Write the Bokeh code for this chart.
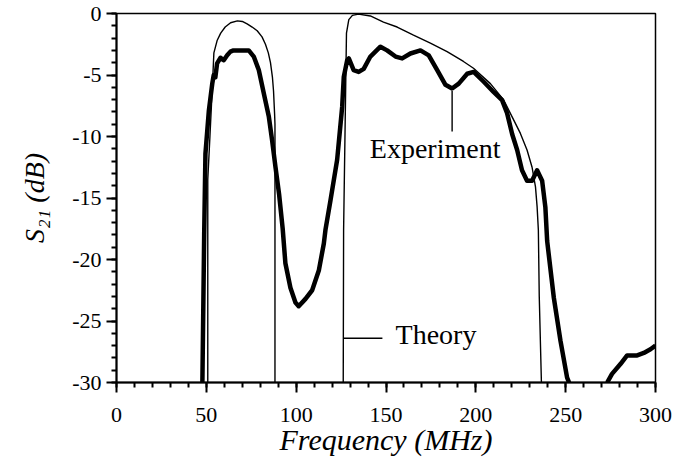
from bokeh.plotting import figure
from bokeh.models import FixedTicker, Label, Range1d
from bokeh.embed import file_html
from bokeh.resources import INLINE

nan = float("nan")

# ---- data ----
x_ticks = [0, 50, 100, 150, 200, 250, 300]
x_minor = list(range(0, 301, 10))
y_ticks = [-30, -25, -20, -15, -10, -5, 0]
y_minor = list(range(-30, 1, 1))
y_tick_labels = ["-30", "-25", "-20", "-15", "-10", "-5", "0"]

theory_freq = [50.8, 50.8, 52.0, 53.5, 54.2, 56.0, 58.0, 60.5, 63.5, 67.3, 70.0, 72.7,
               75.5, 78.3, 81.0, 82.9, 84.5, 85.7, 86.8, 87.4, 88.0, 88.2, 88.2, nan,
               126.2, 126.4, 128.0, 129.3, 131.3, 134.7, 141.3, 148.6, 156.2, 165.3,
               174.7, 184.0, 193.1, 198.7, 208.1, 215.4, 220.2, 224.8, 228.5, 231.3,
               233.2, 234.1, 234.8, 235.3, 236.5]
theory_s21 = [-30.0, -13.5, -10.0, -5.5, -3.2, -2.2, -1.6, -1.1, -0.75, -0.6, -0.65, -0.85,
              -1.1, -1.4, -1.9, -2.5, -3.2, -4.0, -5.2, -6.3, -8.2, -9.0, -30.0, nan,
              -30.0, -17.6, -1.6, -0.5, -0.15, -0.05, -0.2, -0.7, -1.1, -1.75,
              -2.4, -3.1, -3.9, -4.45, -5.7, -7.0, -8.4, -9.75, -11.1, -12.5,
              -14.1, -15.7, -17.6, -23.0, -30.0]

exp_freq = [47.8, 48.8, 49.5, 51.4, 53.3, 54.1, 55.0, 56.0, 57.9, 59.7, 61.6, 63.4, 65.1,
            73.6, 76.4, 79.2, 82.0, 84.8, 86.6, 88.5, 90.5, 92.5, 94.0, 96.8, 99.6, 101.4,
            105.2, 108.9, 112.6, 115.4, 116.3, 119.1, 122.8, 125.6, 126.5, 128.4, 129.3,
            132.0, 134.8, 137.6, 141.3, 146.9, 150.6, 155.3, 159.0, 163.6, 169.2, 173.8,
            178.5, 183.1, 186.8, 190.5, 195.2, 198.8, 204.4, 210.0, 214.6, 217.4, 220.2,
            223.0, 225.7, 228.5, 231.3, 234.1, 236.9, 238.7, 239.7, 243.4, 247.1, 250.8,
            251.9, nan, 273.1, 275.8, 280.5, 284.2, 289.8, 293.5, 297.2, 300.0]
exp_s21 = [-30.0, -18.0, -11.4, -7.9, -5.7, -5.0, -5.2, -4.05, -3.6, -3.8, -3.4, -3.1, -3.0,
           -3.0, -3.5, -4.6, -6.5, -8.4, -10.3, -12.5, -14.7, -17.5, -20.3, -22.3, -23.5, -23.8,
           -23.2, -22.5, -20.9, -18.7, -17.6, -15.2, -11.9, -7.6, -5.15, -3.8, -3.65,
           -4.6, -4.75, -4.5, -3.5, -2.7, -3.0, -3.5, -3.65, -3.25, -3.0, -3.4,
           -4.6, -5.8, -6.1, -5.7, -4.9, -4.75, -5.55, -6.4, -7.05, -8.1, -9.8,
           -11.1, -12.75, -13.6, -13.6, -12.75, -13.6, -15.75, -18.5, -23.1, -26.6, -29.6,
           -30.0, nan, -30.0, -29.3, -28.5, -27.8, -27.8, -27.6, -27.3, -27.0]

# annotation leaders and labels
exp_leader_x = [186.8, 186.8]
exp_leader_y = [-6.3, -9.6]
theory_leader_x = [126.3, 148.0]
theory_leader_y = [-26.4, -26.4]
exp_label = ("Experiment", 141.0, -11.0)
theory_label = ("Theory", 155.3, -26.1)

SERIF = "Liberation Serif"

p = figure(width=686, height=465, x_range=Range1d(0, 300), y_range=Range1d(-30, 0),
           output_backend="svg", toolbar_location=None,
           min_border_left=116, min_border_right=31, min_border_top=13, min_border_bottom=83)
p.xgrid.visible = False
p.ygrid.visible = False
p.background_fill_color = "white"
p.border_fill_color = "white"
p.outline_line_color = "black"
p.outline_line_width = 1.5

p.line(theory_freq, theory_s21, line_color="black", line_width=1.4)
p.line(exp_freq, exp_s21, line_color="black", line_width=4.5, line_join="round")
p.line(exp_leader_x, exp_leader_y, line_color="black", line_width=1.4)
p.line(theory_leader_x, theory_leader_y, line_color="black", line_width=1.4)

for txt, lx, ly in (exp_label, theory_label):
    p.add_layout(Label(x=lx, y=ly, text=txt, text_font=SERIF, text_font_size="28px",
                       text_align="left", text_baseline="middle", text_color="black"))

# axes
xa = p.xaxis[0]
xa.ticker = FixedTicker(ticks=x_ticks, minor_ticks=x_minor)
ya = p.yaxis[0]
ya.ticker = FixedTicker(ticks=y_ticks, minor_ticks=y_minor)
ya.major_label_overrides = {v: s for v, s in zip(y_ticks, y_tick_labels)}
for ax in (xa, ya):
    ax.axis_line_color = "black"
    ax.axis_line_width = 2
    ax.major_tick_line_color = "black"
    ax.major_tick_line_width = 2
    ax.minor_tick_line_color = "black"
    ax.minor_tick_line_width = 2
    ax.major_tick_in = 0
    ax.major_tick_out = 10
    ax.minor_tick_in = 0
    ax.minor_tick_out = 5
    ax.major_label_text_font = SERIF
    ax.major_label_text_font_size = "22px"
    ax.major_label_text_color = "black"
    ax.axis_label_text_font = SERIF
    ax.axis_label_text_font_style = "italic"
    ax.axis_label_text_color = "black"
xa.major_label_standoff = 15
ya.major_label_standoff = 5
xa.axis_label = "Frequency (MHz)"
xa.axis_label_text_font_size = "30px"
xa.axis_label_standoff = -2
ya.axis_label = "S\u2082\u2081 (dB)"
ya.axis_label_text_font_size = "28px"
ya.axis_label_standoff = 19

open("out.html", "w").write(file_html(p, INLINE))
